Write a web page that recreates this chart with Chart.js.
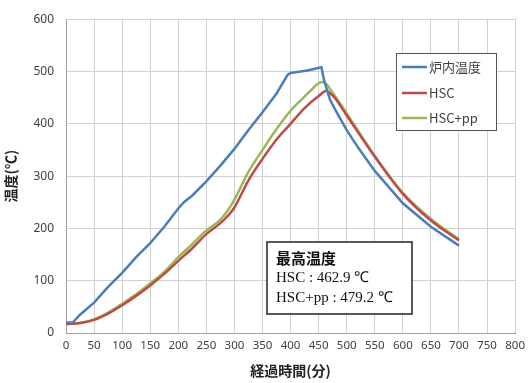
<!DOCTYPE html>
<html>
<head>
<meta charset="utf-8">
<script src="https://cdn.jsdelivr.net/npm/chart.js@4"></script>
<style>
html,body{margin:0;padding:0;background:#fff}
#wrap{width:531px;height:383px;position:relative}
</style>
</head>
<body>
<div id="wrap"><canvas id="tempChart" width="531" height="383"></canvas></div>
<script>

// 炉内温度
let furnaceTime=[0,12,25,50,75,100,125,150,175,200,210,225,250,275,300,325,350,375,395,400,430,455,460,470,480,500,520,550,600,650,700]
let furnaceTemp=[20,20,35,58,88,115,145,172,203,238,250,263,290,320,352,388,422,458,494,497,502,508,482,447,426,388,355,310,248,203,167]

// HSC
let hscTime=[0,25,50,75,100,125,150,175,200,225,250,275,290,300,325,350,375,400,425,450,464,470,480,500,550,600,650,700]
let hscTemp=[17,19,25,37,53,71,91,113,138,162,189,210,226,240,292,333,370,400,430,453,463,459,448,416,337,266,215,177]

// HSC+pp
let ppTime=[0,25,50,75,100,125,150,175,200,225,250,275,290,300,325,350,375,400,425,440,448,456,464,472,480,500,550,600,650,700]
let ppTemp=[17,19,26,39,56,74,95,117,145,170,196,217,237,255,308,350,390,425,452,468,476,480,476,464,452,420,339,268,218,179]

let seriesNames=["炉内温度","HSC","HSC+pp"]
let xTicks=[0,800,50]
let yTicks=[0,600,100]

let maxTitle="最高温度"
let maxLines=["HSC : 462.9 ℃","HSC+pp : 479.2 ℃"]

function pairs(xs,ys){
return xs.map((x,i)=>({x:x,y:ys[i]}))
}

let legendBox={
id:"legendBox",
afterDraw(chart){
let c=chart.ctx
c.save()
c.fillStyle="#fff"
c.fillRect(396,53,100,77)
c.strokeStyle="#555"
c.lineWidth=1
c.strokeRect(396.5,53.5,100,77)
let rows=[67,93,118]
chart.data.datasets.forEach((ds,i)=>{
c.strokeStyle=ds.borderColor
c.lineWidth=2.5
c.beginPath()
c.moveTo(402,rows[i])
c.lineTo(427,rows[i])
c.stroke()
c.fillStyle="#404040"
c.font="13px 'Noto Sans CJK JP'"
c.textBaseline="middle"
c.fillText(ds.label,429,rows[i])
})

// 最高温度 box
c.fillStyle="#fff"
c.fillRect(267,242,145,72)
c.strokeStyle="#222"
c.lineWidth=1.5
c.strokeRect(267,242,145,72)
c.fillStyle="#111"
c.textBaseline="middle"
c.font="bold 15px 'Noto Sans CJK JP'"
c.fillText(maxTitle,276,258)
c.font="15px 'Liberation Serif'"
c.fillText(maxLines[0],276,278)
c.fillText(maxLines[1],276,298)
c.restore()
}
}

new Chart(document.getElementById("tempChart"),{

type:"scatter",

data:{
datasets:[
{label:seriesNames[0],data:pairs(furnaceTime,furnaceTemp),borderColor:"#4a7ebb",tension:0},
{label:seriesNames[1],data:pairs(hscTime,hscTemp),borderColor:"#be4b48",cubicInterpolationMode:"monotone"},
{label:seriesNames[2],data:pairs(ppTime,ppTemp),borderColor:"#98b954",cubicInterpolationMode:"monotone"}
].map(d=>Object.assign(d,{showLine:true,pointRadius:0,borderWidth:2.5,fill:false}))
},

options:{
responsive:false,
animation:false,
layout:{padding:{top:16,right:13,left:0,bottom:0}},
plugins:{legend:{display:false},tooltip:{enabled:false}},
scales:{
x:{
type:"linear",
min:xTicks[0],max:xTicks[1],
ticks:{stepSize:xTicks[2],color:"#404040",font:{family:"Noto Sans",size:11.5},padding:6,maxRotation:0,autoSkip:false},
grid:{color:"#d0d0d0",drawTicks:false},
border:{color:"#a0a0a0"},
title:{display:true,text:"経過時間(分)",color:"#222",font:{family:"Noto Sans CJK JP",size:14,weight:"bold"},padding:{top:4,bottom:4}},
afterFit(s){s.height=50}
},
y:{
min:yTicks[0],max:yTicks[1],
ticks:{stepSize:yTicks[2],color:"#404040",font:{family:"Noto Sans",size:12},padding:12},
grid:{color:"#d0d0d0",drawTicks:false},
border:{color:"#a0a0a0"},
title:{display:true,text:"温度(℃)",color:"#222",font:{family:"Noto Sans CJK JP",size:14,weight:"bold"},padding:{top:2,bottom:4}},
afterFit(s){s.width=66}
}
}
},

plugins:[legendBox]

})

</script>
</body>
</html>
